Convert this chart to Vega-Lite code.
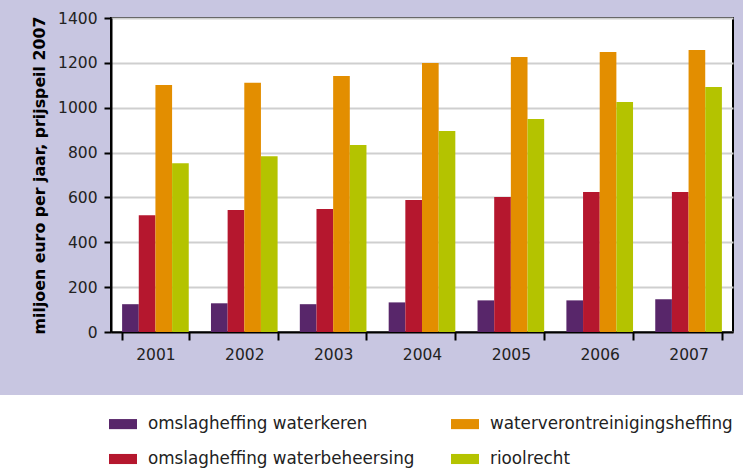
{
  "$schema": "https://vega.github.io/schema/vega-lite/v6.json",
  "width": 622,
  "height": 314,
  "autosize": {"type": "none"},
  "padding": {"left": 111, "top": 18, "right": 10, "bottom": 136},
  "background": "#c8c6e1",
  "config": {
    "view": {"fill": "white", "stroke": "black", "strokeWidth": 2},
    "font": "DejaVu Sans"
  },
  "data": {
    "values": [
      {"jaar": "2001", "soort": "omslagheffing waterkeren", "waarde": 124},
      {"jaar": "2001", "soort": "omslagheffing waterbeheersing", "waarde": 521},
      {"jaar": "2001", "soort": "waterverontreinigingsheffing", "waarde": 1101},
      {"jaar": "2001", "soort": "rioolrecht", "waarde": 752},
      {"jaar": "2002", "soort": "omslagheffing waterkeren", "waarde": 128},
      {"jaar": "2002", "soort": "omslagheffing waterbeheersing", "waarde": 544},
      {"jaar": "2002", "soort": "waterverontreinigingsheffing", "waarde": 1111},
      {"jaar": "2002", "soort": "rioolrecht", "waarde": 784},
      {"jaar": "2003", "soort": "omslagheffing waterkeren", "waarde": 124},
      {"jaar": "2003", "soort": "omslagheffing waterbeheersing", "waarde": 548},
      {"jaar": "2003", "soort": "waterverontreinigingsheffing", "waarde": 1141},
      {"jaar": "2003", "soort": "rioolrecht", "waarde": 834},
      {"jaar": "2004", "soort": "omslagheffing waterkeren", "waarde": 132},
      {"jaar": "2004", "soort": "omslagheffing waterbeheersing", "waarde": 588},
      {"jaar": "2004", "soort": "waterverontreinigingsheffing", "waarde": 1199},
      {"jaar": "2004", "soort": "rioolrecht", "waarde": 896},
      {"jaar": "2005", "soort": "omslagheffing waterkeren", "waarde": 141},
      {"jaar": "2005", "soort": "omslagheffing waterbeheersing", "waarde": 602},
      {"jaar": "2005", "soort": "waterverontreinigingsheffing", "waarde": 1226},
      {"jaar": "2005", "soort": "rioolrecht", "waarde": 950},
      {"jaar": "2006", "soort": "omslagheffing waterkeren", "waarde": 141},
      {"jaar": "2006", "soort": "omslagheffing waterbeheersing", "waarde": 624},
      {"jaar": "2006", "soort": "waterverontreinigingsheffing", "waarde": 1248},
      {"jaar": "2006", "soort": "rioolrecht", "waarde": 1025},
      {"jaar": "2007", "soort": "omslagheffing waterkeren", "waarde": 146},
      {"jaar": "2007", "soort": "omslagheffing waterbeheersing", "waarde": 624},
      {"jaar": "2007", "soort": "waterverontreinigingsheffing", "waarde": 1257},
      {"jaar": "2007", "soort": "rioolrecht", "waarde": 1092}
    ]
  },
  "mark": {"type": "bar"},
  "encoding": {
    "x": {
      "field": "jaar",
      "type": "nominal",
      "scale": {"paddingInner": 0.25, "paddingOuter": 0.125},
      "axis": {
        "title": null,
        "labelAngle": 0,
        "tickBand": "extent",
        "domainColor": "black",
        "domainWidth": 2,
        "tickColor": "black",
        "tickWidth": 2,
        "tickSize": 8,
        "labelFontSize": 15.5,
        "labelPadding": 7,
        "labelColor": "#222222",
        "grid": false
      }
    },
    "xOffset": {
      "field": "soort",
      "type": "nominal",
      "sort": ["omslagheffing waterkeren", "omslagheffing waterbeheersing", "waterverontreinigingsheffing", "rioolrecht"],
      "scale": {"paddingInner": 0, "paddingOuter": 0}
    },
    "y": {
      "field": "waarde",
      "type": "quantitative",
      "scale": {"domain": [0, 1400]},
      "axis": {
        "title": "miljoen euro per jaar, prijspeil 2007",
        "titleFontSize": 15.8,
        "titleFontWeight": "bold",
        "titleColor": "black",
        "titlePadding": 10,
        "values": [0, 200, 400, 600, 800, 1000, 1200, 1400],
        "format": "d",
        "gridColor": "#cfcfcf",
        "gridWidth": 2,
        "domainColor": "black",
        "domainWidth": 2,
        "tickColor": "black",
        "tickWidth": 2,
        "tickSize": 7,
        "labelFontSize": 15.5,
        "labelPadding": 7,
        "labelColor": "#222222"
      }
    },
    "color": {
      "field": "soort",
      "type": "nominal",
      "scale": {
        "domain": ["omslagheffing waterkeren", "omslagheffing waterbeheersing", "waterverontreinigingsheffing", "rioolrecht"],
        "range": ["#58266a", "#b5172e", "#e38e00", "#b4c300"]
      },
      "legend": {
        "orient": "none",
        "legendX": -111,
        "legendY": 377,
        "columns": 2,
        "direction": "vertical",
        "values": ["omslagheffing waterkeren", "omslagheffing waterbeheersing", "waterverontreinigingsheffing", "rioolrecht"],
        "fillColor": "white",
        "padding": 15,
        "title": "\u00a0",
        "titleOrient": "left",
        "titlePadding": 94,
        "titleFontSize": 1,
        "symbolType": "M-1,-0.36H1V0.36H-1Z",
        "symbolSize": 784,
        "symbolStrokeWidth": 0,
        "symbolOpacity": 1,
        "labelFontSize": 16.8,
        "labelOffset": 11,
        "labelColor": "#222222",
        "labelLimit": 400,
        "rowPadding": 12,
        "columnPadding": 36
      }
    }
  }
}
